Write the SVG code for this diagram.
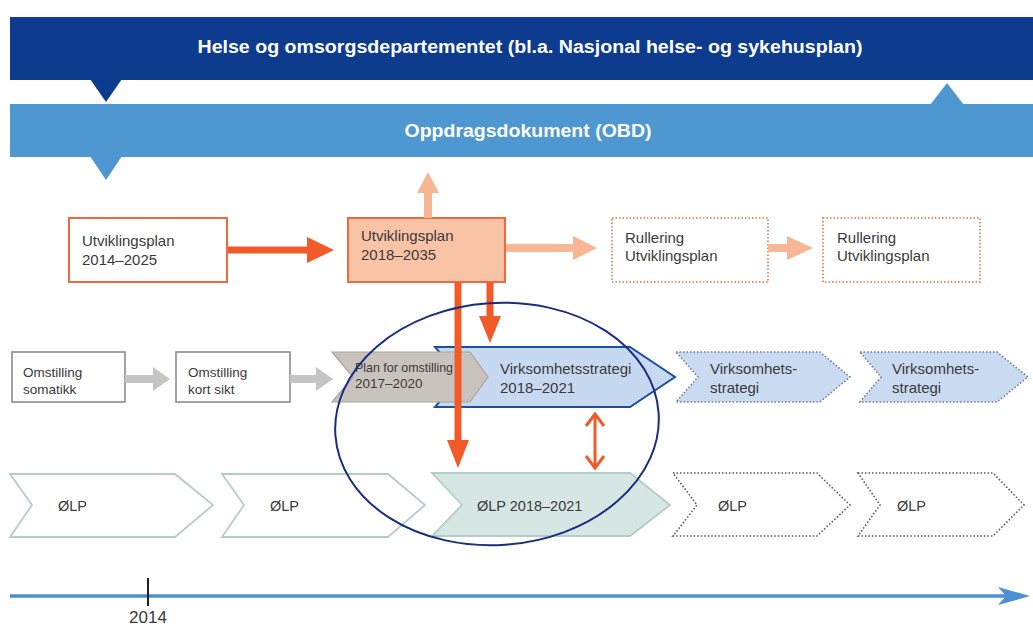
<svg xmlns="http://www.w3.org/2000/svg" width="1033" height="626" viewBox="0 0 1033 626">
<style>
text{font-family:"Liberation Sans",Arial,sans-serif;fill:#3a3a3a}
.hd{fill:#fff;font-weight:bold;font-size:18px}
.t15{font-size:15px}
.t135{font-size:13.5px}
.t145{font-size:14.5px}
.bx{fill:#fff;stroke:#ee6a3c;stroke-width:2}
.bxd{fill:#fff;stroke:#e9936b;stroke-width:2;stroke-dasharray:1.5 2}
.gbx{fill:#fff;stroke:#8c8c8c;stroke-width:1.6}
.vs{fill:#c9daf1;stroke:#6d7d93;stroke-width:1.6;stroke-dasharray:1.5 2}
.olp{fill:#fff;stroke:#b3cdc8;stroke-width:1.8}
.olpd{fill:#fff;stroke:#555;stroke-width:1.6;stroke-dasharray:1.5 2}
.or{fill:#f15a29}
.pe{fill:#f7b795}
.gr{fill:#c7c5c3}
</style>
<rect width="1033" height="626" fill="#fff"/>
<g id="hod">
<rect x="10" y="17" width="1023" height="63" fill="#0d3b8e"/>
<polygon points="90,79 122,79 106,102" fill="#0d3b8e"/>
<text class="hd" x="530" y="53" text-anchor="middle" textLength="665" lengthAdjust="spacingAndGlyphs">Helse og omsorgsdepartementet (bl.a. Nasjonal helse- og sykehusplan)</text>
</g>
<g id="obd">
<rect x="10" y="104" width="1023" height="53" fill="#4f97d1"/>
<polygon points="930,105 964,105 947,83" fill="#4f97d1"/>
<polygon points="90,156 122,156 106,180" fill="#4f97d1"/>
<text class="hd" x="528" y="137" text-anchor="middle" textLength="247" lengthAdjust="spacingAndGlyphs">Oppdragsdokument (OBD)</text>
</g>
<g id="up2014">
<rect class="bx" x="69" y="218" width="158" height="64"/>
<text class="t15" x="82" y="246">Utviklingsplan</text>
<text class="t15" x="82" y="265">2014–2025</text>
</g>
<g id="up2018">
<rect class="bx" x="348" y="218" width="157" height="64" style="fill:#f9c3a5"/>
<text class="t15" x="361" y="241">Utviklingsplan</text>
<text class="t15" x="361" y="260">2018–2035</text>
</g>
<g id="rull1">
<rect class="bxd" x="612" y="218" width="156" height="64"/>
<text class="t15" x="625" y="243">Rullering</text>
<text class="t15" x="625" y="261">Utviklingsplan</text>
</g>
<g id="rull2">
<rect class="bxd" x="823" y="218" width="157" height="64"/>
<text class="t15" x="837" y="243">Rullering</text>
<text class="t15" x="837" y="261">Utviklingsplan</text>
</g>
<g id="omst-som">
<rect class="gbx" x="12" y="352" width="113" height="50"/>
<text class="t135" x="23" y="377">Omstilling</text>
<text class="t135" x="23" y="394">somatikk</text>
</g>
<g id="omst-kort">
<rect class="gbx" x="176" y="352" width="114" height="50"/>
<text class="t135" x="188" y="377">Omstilling</text>
<text class="t135" x="188" y="394">kort sikt</text>
</g>
<g id="vs2018">
<polygon points="435,347 630,347 675,377 630,407 435,407 460,377" fill="#c6d9f1" stroke="#1d4f9c" stroke-width="2"/>
<text class="t15" x="500" y="374">Virksomhetsstrategi</text>
<text class="t15" x="500" y="393">2018–2021</text>
</g>
<g id="plan-omst">
<polygon points="332,352 470,352 488,377 470,402 332,402 353,377" fill="#c9c3bd" stroke="#aaa49e" stroke-width="1.2"/>
<text class="t135" x="355" y="372" textLength="98" lengthAdjust="spacingAndGlyphs">Plan for omstilling</text>
<text class="t135" x="355" y="388">2017–2020</text>
</g>
<g id="vs3">
<polygon class="vs" points="676,352 820,352 850,377 820,402 676,402 698,377"/>
<text class="t15" x="710" y="374">Virksomhets-</text>
<text class="t15" x="710" y="393">strategi</text>
</g>
<g id="vs4">
<polygon class="vs" points="860,352 997,352 1028,377 997,402 860,402 881,377"/>
<text class="t15" x="892" y="374">Virksomhets-</text>
<text class="t15" x="892" y="393">strategi</text>
</g>
<g id="olp1">
<polygon class="olp" points="10,474 175,474 213,505 175,537 10,537 32,505"/>
<text class="t145" x="58" y="511">ØLP</text>
</g>
<g id="olp2">
<polygon class="olp" points="222,474 388,474 425,505 388,537 222,537 244,505"/>
<text class="t145" x="270" y="511">ØLP</text>
</g>
<g id="olp2018">
<polygon class="olp" points="432,473 630,473 670,505 630,536 432,536 462,505" style="fill:#d6e6e4"/>
<text class="t145" x="477" y="511">ØLP 2018–2021</text>
</g>
<g id="olp4">
<polygon class="olpd" points="673,473 817,473 850,505 817,536 673,536 697,505"/>
<text class="t145" x="718" y="511">ØLP</text>
</g>
<g id="olp5">
<polygon class="olpd" points="858,473 993,473 1024,505 993,536 858,536 880,505"/>
<text class="t145" x="897" y="511">ØLP</text>
</g>
<g id="connectors">
<polygon class="or" points="228,246.5 307,246.5 307,237 334,250 307,263 307,253.5 228,253.5"/>
<polygon class="pe" points="506,244 573,244 573,236 597,248 573,260 573,252 506,252"/>
<polygon class="pe" points="768,244 787,244 787,236 813,248 787,260 787,252 768,252"/>
<polygon class="pe" points="424,218 424,193 417,193 428,172 439,193 432,193 432,218"/>
<polygon class="gr" points="125,375 153,375 153,367 170,379 153,391 153,383 125,383"/>
<polygon class="gr" points="290,375 316,375 316,367 333,379 316,391 316,383 290,383"/>
<polygon class="or" points="454.5,282 461.5,282 461.5,440 469,440 458,468 447,440 454.5,440"/>
<polygon class="or" points="486.5,282 493.5,282 493.5,316 501,316 490,343 479,316 486.5,316"/>
<g fill="none" stroke="#f15a29" stroke-width="3">
<line x1="595" y1="415" x2="595" y2="467"/>
<polyline points="586,426 595,414 604,426"/>
<polyline points="586,456 595,468 604,456"/>
</g>
</g>
<ellipse id="focus" cx="497" cy="424" rx="162" ry="121" transform="rotate(-4 497 424)" fill="none" stroke="#1a2d7e" stroke-width="2"/>
<g id="timeline">
<line x1="10" y1="596" x2="1010" y2="596" stroke="#4a8fd0" stroke-width="3.5"/>
<polygon points="998,587 1030,596 998,605 1006,596" fill="#4a8fd0"/>
<line x1="148" y1="578" x2="148" y2="606" stroke="#222" stroke-width="2"/>
<text x="148" y="623" text-anchor="middle" style="font-size:17px">2014</text>
</g>
</svg>
